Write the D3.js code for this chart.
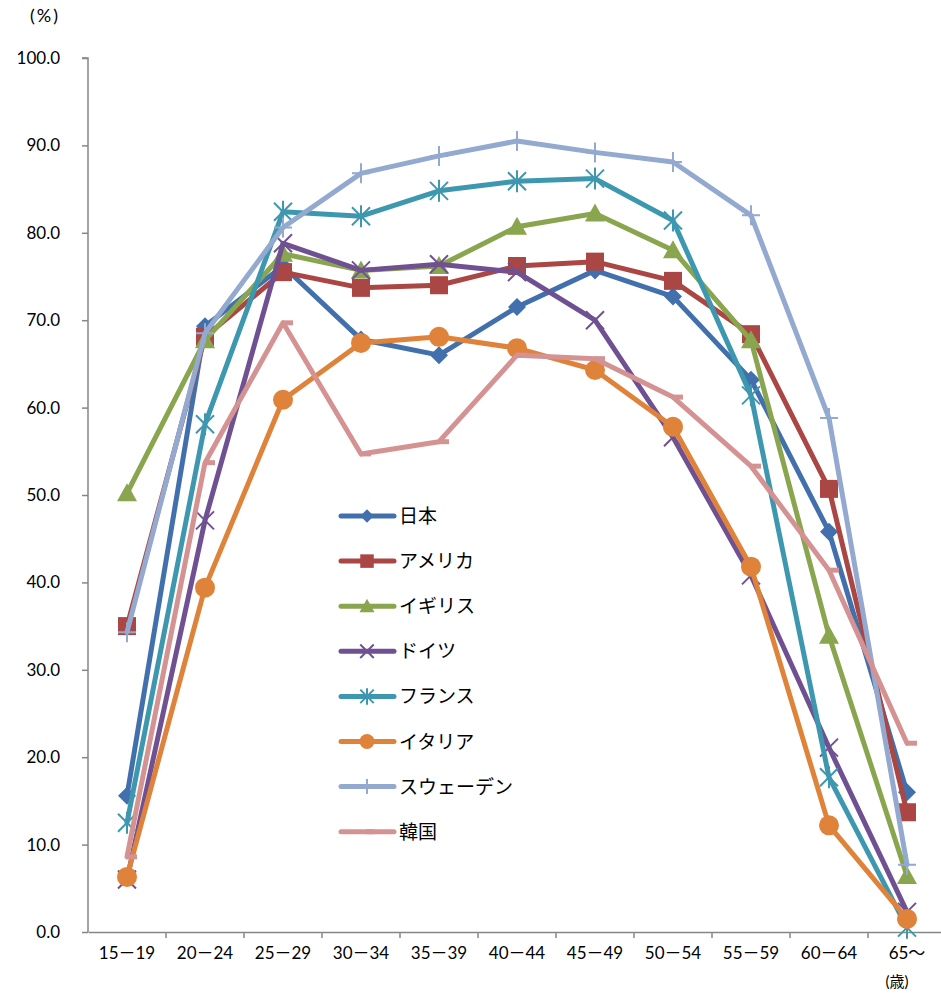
<!DOCTYPE html>
<html>
<head>
<meta charset="utf-8">
<script src="https://cdn.jsdelivr.net/npm/d3@7/dist/d3.min.js"></script>
<style>
  html, body { margin: 0; padding: 0; background: #fff; }
  svg { display: block; }
  text { font-family: Lato, "Noto Sans CJK JP", sans-serif; fill: #000; }
</style>
</head>
<body>
<svg id="chart" width="941" height="993"></svg>
<script>
// Age groups (x axis) and y tick values
const ageGroups = ["15－19", "20－24", "25－29", "30－34", "35－39", "40－44", "45－49", "50－54", "55－59", "60－64", "65～"];
const yTicks = [0, 10, 20, 30, 40, 50, 60, 70, 80, 90, 100];

// Labour force participation rate by age group (%)
const japan   = [15.6, 69.3, 76.2, 67.8, 66.0, 71.5, 75.7, 72.7, 63.2, 45.8, 16.0];
const usa     = [35.0, 68.1, 75.5, 73.7, 74.0, 76.2, 76.7, 74.5, 68.4, 50.7, 13.7];
const uk      = [50.2, 67.7, 77.6, 75.7, 76.2, 80.7, 82.2, 78.0, 67.7, 33.9, 6.4];
const germany = [6.0, 47.1, 78.8, 75.7, 76.4, 75.5, 70.0, 56.6, 40.8, 21.1, 2.3];
const france  = [12.5, 58.1, 82.4, 81.9, 84.8, 85.9, 86.2, 81.4, 61.4, 17.7, 0.5];
const italy   = [6.3, 39.4, 60.9, 67.4, 68.1, 66.8, 64.3, 57.8, 41.8, 12.2, 1.5];
const sweden  = [34.3, 68.5, 80.6, 86.8, 88.8, 90.5, 89.2, 88.1, 82.0, 58.8, 7.7];
const korea   = [8.6, 53.7, 69.7, 54.7, 56.1, 66.0, 65.6, 61.2, 53.3, 41.4, 21.6];

const seriesNames  = ["日本", "アメリカ", "イギリス", "ドイツ", "フランス", "イタリア", "スウェーデン", "韓国"];
const seriesValues = [japan, usa, uk, germany, france, italy, sweden, korea];
const seriesColors = ["#4170AC", "#AA4643", "#89A54E", "#6F5192", "#3D98AF", "#DF833B", "#93A9CF", "#D49392"];
const seriesMarkers = ["diamond", "square", "triangle", "x", "asterisk", "circle", "plus", "dash"];

const svg = d3.select("#chart");
const plot = { left: 88, right: 946, top: 58, bottom: 932 };

const x = d3.scaleBand().domain(ageGroups).range([plot.left, plot.right]);
const y = d3.scaleLinear().domain([0, 100]).range([plot.bottom, plot.top]);
const cx = d => x(d) + x.bandwidth() / 2;

// Axes
const axisColor = "#868686";
const yAxis = svg.append("g").attr("transform", `translate(${plot.left},0)`)
  .call(d3.axisLeft(y).tickValues(yTicks).tickSize(6).tickPadding(22).tickFormat(d3.format(".1f")));
yAxis.select(".domain").attr("stroke", axisColor).attr("stroke-width", 1.5).attr("d", `M-6,${y(100)}H0V${y(0)}`);
yAxis.selectAll(".tick line").attr("stroke", axisColor).attr("stroke-width", 1.5);
yAxis.selectAll(".tick text").attr("font-size", 17).attr("font-family", "Lato, sans-serif").attr("fill", "#000");

const xAxis = svg.append("g").attr("transform", `translate(0,${plot.bottom})`)
  .call(d3.axisBottom(x).tickSize(0).tickPadding(15));
xAxis.select(".domain").attr("stroke", axisColor).attr("stroke-width", 1.5);
xAxis.selectAll(".tick text").attr("font-size", 17).attr("fill", "#000");
// tick marks on category boundaries
svg.append("g").selectAll("line")
  .data(ageGroups.slice(1))
  .join("line")
  .attr("x1", d => x(d)).attr("x2", d => x(d))
  .attr("y1", plot.bottom).attr("y2", plot.bottom + 6)
  .attr("stroke", axisColor).attr("stroke-width", 1.5);

// Unit labels
svg.append("text").attr("x", 45).attr("y", 22).attr("text-anchor", "middle")
  .attr("font-size", 18).attr("letter-spacing", 2).attr("font-family", "'Noto Sans CJK JP', sans-serif").text("(%)");
svg.append("text").attr("x", 897).attr("y", 987).attr("text-anchor", "middle")
  .attr("font-size", 15).attr("font-family", "'Noto Sans CJK JP', sans-serif").text("(歳)");

// Marker drawing
function drawMarker(g, type, color, px, py, scale = 1) {
  const s = scale;
  switch (type) {
    case "diamond":
      g.append("path").attr("d", `M${px},${py - 9 * s}L${px + 9 * s},${py}L${px},${py + 9 * s}L${px - 9 * s},${py}Z`).attr("fill", color);
      break;
    case "square":
      g.append("rect").attr("x", px - 9 * s).attr("y", py - 9 * s).attr("width", 18 * s).attr("height", 18 * s).attr("fill", color);
      break;
    case "triangle":
      g.append("path").attr("d", `M${px},${py - 10 * s}L${px + 10 * s},${py + 8 * s}L${px - 10 * s},${py + 8 * s}Z`).attr("fill", color);
      break;
    case "circle":
      g.append("circle").attr("cx", px).attr("cy", py).attr("r", 10 * s).attr("fill", color);
      break;
    case "x":
      g.append("path").attr("d", `M${px - 9 * s},${py - 9 * s}L${px + 9 * s},${py + 9 * s}M${px + 9 * s},${py - 9 * s}L${px - 9 * s},${py + 9 * s}`)
        .attr("stroke", color).attr("stroke-width", 2);
      break;
    case "asterisk":
      g.append("path").attr("d", `M${px - 9 * s},${py - 9 * s}L${px + 9 * s},${py + 9 * s}M${px + 9 * s},${py - 9 * s}L${px - 9 * s},${py + 9 * s}M${px},${py - 11 * s}L${px},${py + 11 * s}`)
        .attr("stroke", color).attr("stroke-width", 2);
      break;
    case "plus":
      g.append("path").attr("d", `M${px - 9 * s},${py}L${px + 9 * s},${py}M${px},${py - 10 * s}L${px},${py + 10 * s}`)
        .attr("stroke", color).attr("stroke-width", 2);
      break;
    case "dash":
      g.append("path").attr("d", `M${px - 1 * s},${py}L${px + 10 * s},${py}`)
        .attr("stroke", color).attr("stroke-width", 5);
      break;
  }
}

// Series lines and markers
const line = d3.line().x((d, i) => cx(ageGroups[i])).y(d => y(d));
seriesValues.forEach((vals, k) => {
  const g = svg.append("g");
  g.append("path").datum(vals).attr("d", line)
    .attr("fill", "none").attr("stroke", seriesColors[k]).attr("stroke-width", 5)
    .attr("stroke-linejoin", "round").attr("stroke-linecap", "round");
  vals.forEach((v, i) => drawMarker(g, seriesMarkers[k], seriesColors[k], cx(ageGroups[i]), y(v)));
});

// Legend
const legend = svg.append("g");
seriesNames.forEach((name, k) => {
  const ly = 516 + k * 45.1;
  const row = legend.append("g");
  row.append("line").attr("x1", 341).attr("x2", 394).attr("y1", ly).attr("y2", ly)
    .attr("stroke", seriesColors[k]).attr("stroke-width", 5).attr("stroke-linecap", "round");
  drawMarker(row, seriesMarkers[k], seriesColors[k], 367, ly, 0.75);
  row.append("text").attr("x", 399).attr("y", ly + 7).attr("font-size", 19)
    .attr("font-family", "'Noto Sans CJK JP', sans-serif").text(name);
});
</script>
</body>
</html>
